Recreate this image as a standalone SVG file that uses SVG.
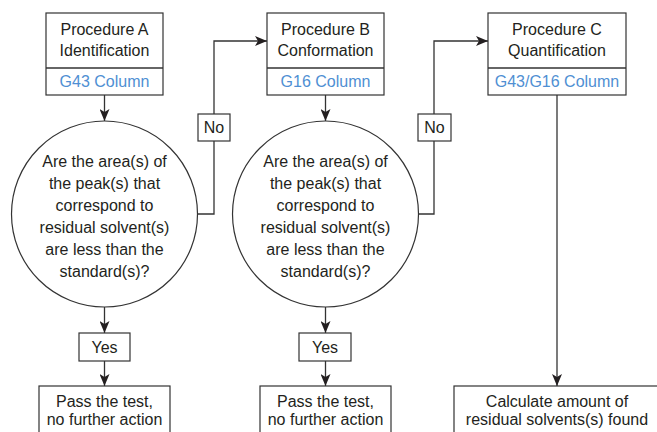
<svg xmlns="http://www.w3.org/2000/svg" width="657" height="432" viewBox="0 0 657 432">
<style>
.box{fill:#fff;stroke:#333;stroke-width:1.2}
.ln{fill:none;stroke:#333;stroke-width:1.3}
text{font-family:"Liberation Sans",Arial,sans-serif;font-size:16px;fill:#231f20;text-anchor:middle}
.blue{fill:#4f8fd3}
</style>
<defs>
<marker id="ar" viewBox="0 0 12 10" refX="12" refY="5" markerWidth="12" markerHeight="10" markerUnits="userSpaceOnUse" orient="auto">
<path d="M0,0 L12,5 L0,10 L3,5 Z" fill="#231f20"/>
</marker>
</defs>
<rect width="657" height="432" fill="#fff"/>
<g id="connectors">
<line class="ln" x1="104.5" y1="95" x2="104.5" y2="121" marker-end="url(#ar)"/>
<line class="ln" x1="325.5" y1="95" x2="325.5" y2="121" marker-end="url(#ar)"/>
<line class="ln" x1="104.5" y1="307" x2="104.5" y2="333" marker-end="url(#ar)"/>
<line class="ln" x1="104.5" y1="361" x2="104.5" y2="386" marker-end="url(#ar)"/>
<line class="ln" x1="325.5" y1="307" x2="325.5" y2="333" marker-end="url(#ar)"/>
<line class="ln" x1="325.5" y1="361" x2="325.5" y2="386" marker-end="url(#ar)"/>
<line class="ln" x1="557" y1="95" x2="557" y2="386" marker-end="url(#ar)"/>
<polyline class="ln" points="197.5,214 214,214 214,41 267,41" marker-end="url(#ar)"/>
<polyline class="ln" points="418.5,214 434,214 434,41 488,41" marker-end="url(#ar)"/>
</g>
<g id="procA">
<rect class="box" x="46" y="13" width="117" height="82"/>
<line class="ln" x1="46" y1="68" x2="163" y2="68"/>
<text x="104.5" y="35">Procedure A</text>
<text x="104.5" y="56">Identification</text>
<text class="blue" x="104.5" y="87">G43 Column</text>
</g>
<g id="procB">
<rect class="box" x="267" y="13" width="117" height="82"/>
<line class="ln" x1="267" y1="68" x2="384" y2="68"/>
<text x="325.5" y="35">Procedure B</text>
<text x="325.5" y="56">Conformation</text>
<text class="blue" x="325.5" y="87">G16 Column</text>
</g>
<g id="procC">
<rect class="box" x="488" y="13" width="138" height="82"/>
<line class="ln" x1="488" y1="68" x2="626" y2="68"/>
<text x="557" y="35">Procedure C</text>
<text x="557" y="56">Quantification</text>
<text class="blue" x="557" y="87">G43/G16 Column</text>
</g>
<g id="decisionA">
<circle class="box" cx="104.5" cy="214" r="93"/>
<text x="104.5" y="167">Are the area(s) of</text>
<text x="104.5" y="189">the peak(s) that</text>
<text x="104.5" y="211">correspond to</text>
<text x="104.5" y="233">residual solvent(s)</text>
<text x="104.5" y="255">are less than the</text>
<text x="104.5" y="277">standard(s)?</text>
</g>
<g id="decisionB">
<circle class="box" cx="325.5" cy="214" r="93"/>
<text x="325.5" y="167">Are the area(s) of</text>
<text x="325.5" y="189">the peak(s) that</text>
<text x="325.5" y="211">correspond to</text>
<text x="325.5" y="233">residual solvent(s)</text>
<text x="325.5" y="255">are less than the</text>
<text x="325.5" y="277">standard(s)?</text>
</g>
<g id="noA">
<rect class="box" x="198" y="114" width="32" height="27"/>
<text x="214" y="133">No</text>
</g>
<g id="noB">
<rect class="box" x="418" y="114" width="33" height="27"/>
<text x="434.5" y="133">No</text>
</g>
<g id="yesA">
<rect class="box" x="79" y="333" width="51" height="28"/>
<text x="104.5" y="353">Yes</text>
</g>
<g id="yesB">
<rect class="box" x="299" y="333" width="52" height="28"/>
<text x="325" y="353">Yes</text>
</g>
<g id="passA">
<rect class="box" x="39" y="386" width="131" height="56"/>
<text x="104.5" y="407">Pass the test,</text>
<text x="104.5" y="425">no further action</text>
</g>
<g id="passB">
<rect class="box" x="260" y="386" width="131" height="56"/>
<text x="325.5" y="407">Pass the test,</text>
<text x="325.5" y="425">no further action</text>
</g>
<g id="calc">
<rect class="box" x="454" y="386" width="210" height="56"/>
<text x="557" y="407">Calculate amount of</text>
<text x="557" y="425">residual solvents(s) found</text>
</g>
</svg>
